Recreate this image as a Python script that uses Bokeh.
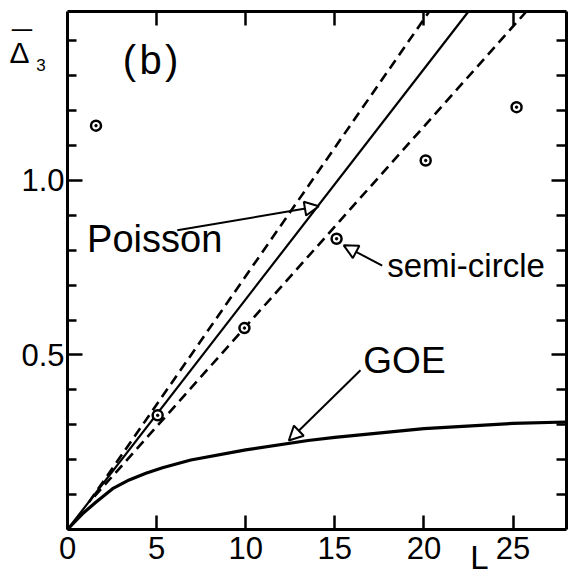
from bokeh.plotting import figure
from bokeh.models import (Range1d, FixedTicker, LinearAxis, Label, Arrow,
                          NormalHead, PrintfTickFormatter, CustomJSTickFormatter)
from bokeh.embed import file_html
from bokeh.resources import INLINE

FONT = "Liberation Sans"

# ---- data ----
L_max = 28.0
D_max = 1.484
x_ticks = [0, 5, 10, 15, 20, 25]
y_major = [0.5, 1.0]
y_minor = [0.1, 0.2, 0.3, 0.4, 0.6, 0.7, 0.8, 0.9, 1.1, 1.2, 1.3, 1.4]

data_L = [1.6, 5.06, 9.93, 15.1, 20.1, 25.2]
data_D = [1.157, 0.327, 0.577, 0.833, 1.057, 1.21]

goe_L = [0, 0.4, 0.84, 1.59, 2.53, 3.46, 4.4, 5.33, 6.92, 10, 13.5, 15, 20, 25, 28]
goe_D = [0, 0.022, 0.045, 0.078, 0.117, 0.142, 0.161, 0.177, 0.199, 0.228,
         0.255, 0.264, 0.289, 0.304, 0.308]

poisson_L = [0, 22.5]
poisson_D = [0, 1.484]
upper_L = [1.2, 20.3]
upper_D = [0.078, 1.484]
lower_L = [1.5, 25.75]
lower_D = [0.094, 1.484]

# frame covers the whole canvas; the box is drawn by axes at fixed locations
p = figure(width=569, height=576, output_backend="svg", toolbar_location=None,
           x_range=Range1d(-3.76, 28.17), y_range=Range1d(-0.1347, 1.5155),
           x_axis_type=None, y_axis_type=None,
           min_border_left=0, min_border_right=0, min_border_top=0,
           min_border_bottom=0)
p.outline_line_color = None
p.xgrid.visible = False
p.ygrid.visible = False
p.background_fill_color = "white"
p.border_fill_color = "white"

blank = CustomJSTickFormatter(code="return ''")


def style(ax, labels=True):
    ax.axis_line_width = 3
    ax.axis_line_color = "black"
    ax.major_tick_line_width = 2.5
    ax.minor_tick_line_width = 2.5
    ax.major_tick_out = 0
    ax.minor_tick_out = 0
    if labels:
        ax.major_label_text_font = FONT
        ax.major_label_text_font_size = "31px"
        ax.major_label_text_color = "black"
    else:
        ax.formatter = blank


bottom = LinearAxis(ticker=FixedTicker(ticks=x_ticks), fixed_location=0,
                    bounds=(0, L_max))
style(bottom)
bottom.major_tick_in = 14
bottom.major_label_standoff = 8
p.add_layout(bottom, "below")

top = LinearAxis(ticker=FixedTicker(ticks=x_ticks[1:]), fixed_location=D_max,
                 bounds=(0, L_max))
style(top, labels=False)
top.major_tick_in = 14
p.add_layout(top, "above")

left = LinearAxis(ticker=FixedTicker(ticks=y_major, minor_ticks=y_minor),
                  formatter=PrintfTickFormatter(format="%.1f"),
                  fixed_location=0, bounds=(0, D_max))
style(left)
left.major_tick_in = 15
left.minor_tick_in = 9
left.major_label_standoff = 3
p.add_layout(left, "left")

right = LinearAxis(ticker=FixedTicker(ticks=y_major, minor_ticks=y_minor),
                   fixed_location=L_max, bounds=(0, D_max))
style(right, labels=False)
right.major_tick_in = 15
right.minor_tick_in = 10
p.add_layout(right, "right")

# curves
p.line(poisson_L, poisson_D, line_color="black", line_width=2.2)
p.line(upper_L, upper_D, line_color="black", line_width=2.6, line_dash="10 6")
p.line(lower_L, lower_D, line_color="black", line_width=2.6, line_dash="10 6")
p.line(goe_L, goe_D, line_color="black", line_width=3.2)

# data points
p.scatter(data_L, data_D, size=10, marker="circle", fill_color="white",
          line_color="black", line_width=2.5)
p.scatter(data_L, data_D, size=2.5, marker="circle", fill_color="black",
          line_color="black")

# arrows
def arrow(x0, y0, x1, y1):
    p.add_layout(Arrow(end=NormalHead(size=14, fill_color="white",
                                      line_color="black", line_width=2),
                       x_start=x0, y_start=y0, x_end=x1, y_end=y1,
                       line_color="black", line_width=2))

arrow(6.16, 0.857, 14.1, 0.926)
arrow(17.66, 0.756, 15.5, 0.814)
arrow(16.44, 0.456, 12.42, 0.255)

# texts
def label(x, y, text, size):
    p.add_layout(Label(x=x, y=y, text=text, text_font=FONT,
                       text_font_size=size, text_color="black",
                       text_align="left", text_baseline="middle"))

label(1.1, 0.831, "Poisson", "38px")
label(17.94, 0.756, "semi-circle", "33px")
label(16.6, 0.484, "GOE", "37px")
label(3.1, 1.346, "(\u200ab\u200a)", "40px")
label(22.6, -0.0802, "L", "33px")
label(-3.25, 1.367, "Δ", "30px")
label(-1.75, 1.332, "3", "17px")
label(-3.12, 1.389, "\u00af", "36px")

open("out.html", "w").write(file_html(p, INLINE))
